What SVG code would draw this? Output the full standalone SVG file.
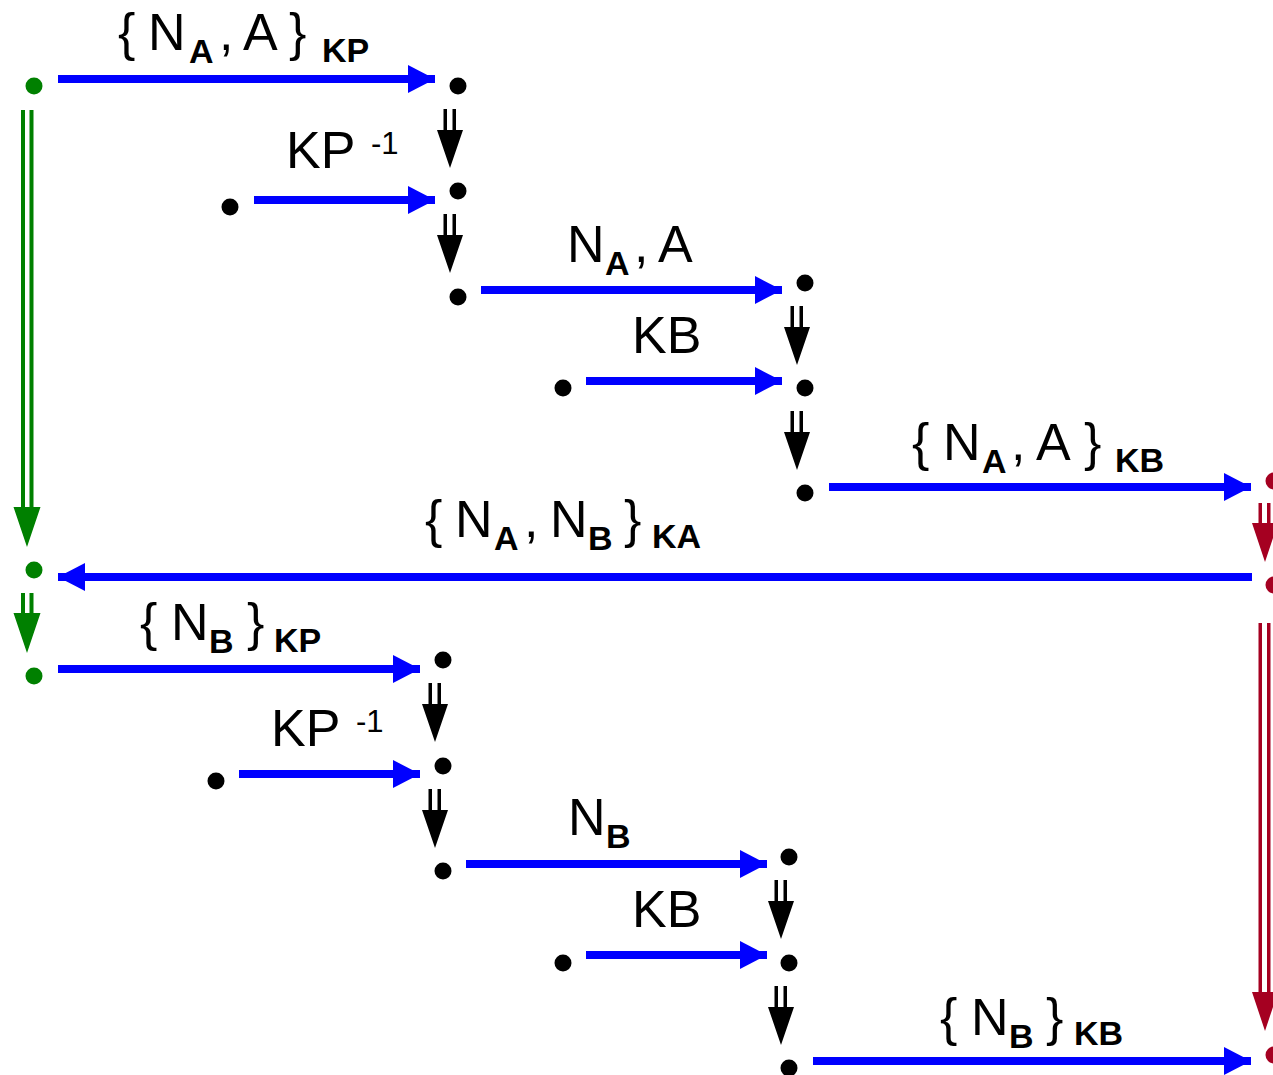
<svg xmlns="http://www.w3.org/2000/svg" width="1273" height="1075" viewBox="0 0 1273 1075">
  <style>
    .bg { fill: #ffffff; }
    .dot { fill: #000000; }
    .dot.g { fill: #008000; }
    .dot.r { fill: #a50021; }
    .msg { stroke: #0000ff; stroke-width: 8; fill: none; }
    .step { fill: #000000; }
    .step.g { fill: #008000; }
    .step.r { fill: #a50021; }
    text { font-family: "Liberation Sans", Arial, sans-serif; fill: #000000; }
    .m { font-size: 52px; }
    .s { font-size: 34px; font-weight: bold; }
    .e { font-size: 31px; }
  </style>
  <defs>
    <marker id="head" markerUnits="userSpaceOnUse" markerWidth="28" markerHeight="28" refX="27" refY="14" orient="auto" viewBox="0 0 28 28">
      <path d="M0,0 L27,14 L0,28 Z" fill="#0000ff"/>
    </marker>
  </defs>
  <rect class="bg" x="0" y="0" width="1273" height="1075"/>

  <!-- message arrows and state-transition arrows -->
  <g id="connectors">
    <line class="msg" x1="58" y1="79" x2="435" y2="79" marker-end="url(#head)"/>
    <line class="msg" x1="254" y1="200" x2="435" y2="200" marker-end="url(#head)"/>
    <line class="msg" x1="481" y1="290" x2="782" y2="290" marker-end="url(#head)"/>
    <line class="msg" x1="586" y1="381" x2="782" y2="381" marker-end="url(#head)"/>
    <line class="msg" x1="829" y1="487" x2="1251" y2="487" marker-end="url(#head)"/>
    <line class="msg" x1="1252" y1="577" x2="58" y2="577" marker-end="url(#head)"/>
    <line class="msg" x1="58" y1="669" x2="420" y2="669" marker-end="url(#head)"/>
    <line class="msg" x1="239" y1="774" x2="420" y2="774" marker-end="url(#head)"/>
    <line class="msg" x1="466" y1="864" x2="767" y2="864" marker-end="url(#head)"/>
    <line class="msg" x1="586" y1="955" x2="767" y2="955" marker-end="url(#head)"/>
    <line class="msg" x1="813" y1="1061" x2="1251" y2="1061" marker-end="url(#head)"/>

    <!-- double-shafted step arrows -->
    <path class="step" d="M443.5,109h3.5v22h-3.5z M452.5,109h3.5v22h-3.5z M437,130H463L450,168Z"/>
    <path class="step" d="M443.5,214h3.5v22h-3.5z M452.5,214h3.5v22h-3.5z M437,235H463L450,273Z"/>
    <path class="step" d="M790.5,306h3.5v22h-3.5z M799.5,306h3.5v22h-3.5z M784,327H810L797,365Z"/>
    <path class="step" d="M790.5,411h3.5v22h-3.5z M799.5,411h3.5v22h-3.5z M784,432H810L797,470Z"/>
    <path class="step" d="M428.5,683h3.5v22h-3.5z M437.5,683h3.5v22h-3.5z M422,704H448L435,742Z"/>
    <path class="step" d="M428.5,789h3.5v22h-3.5z M437.5,789h3.5v22h-3.5z M422,810H448L435,848Z"/>
    <path class="step" d="M774.5,880h3.5v22h-3.5z M783.5,880h3.5v22h-3.5z M768,901H794L781,939Z"/>
    <path class="step" d="M774.5,986h3.5v22h-3.5z M783.5,986h3.5v22h-3.5z M768,1007H794L781,1045Z"/>

    <path class="step g" d="M21,110h4v399h-4z M29.5,110h4v399h-4z M13.5,507H40.5L27,547Z"/>
    <path class="step g" d="M21,593h4v22h-4z M29.5,593h4v22h-4z M13.5,613H40.5L27,653Z"/>

    <path class="step r" d="M1258.5,503h3.5v22h-3.5z M1267,503h3.5v22h-3.5z M1252,523H1278L1265,562Z"/>
    <path class="step r" d="M1258.5,623h3.5v371h-3.5z M1267,623h3.5v371h-3.5z M1252,992H1278L1265,1031Z"/>

    <!-- message labels -->
    <text class="m" x="118" y="50">{</text>
    <text class="m" x="148" y="50">N</text>
    <text class="s" x="189" y="63">A</text>
    <text class="m" x="219" y="50">,</text>
    <text class="m" x="243" y="50">A</text>
    <text class="m" x="289" y="50">}</text>
    <text class="s" x="322" y="62">KP</text>

    <text class="m" x="286" y="168">KP</text>
    <text class="e" x="371" y="154">-1</text>

    <text class="m" x="567" y="262">N</text>
    <text class="s" x="605" y="275">A</text>
    <text class="m" x="634" y="262">,</text>
    <text class="m" x="658" y="262">A</text>

    <text class="m" x="632" y="353">KB</text>

    <text class="m" x="912" y="460">{</text>
    <text class="m" x="943" y="460">N</text>
    <text class="s" x="982" y="473">A</text>
    <text class="m" x="1011" y="460">,</text>
    <text class="m" x="1036" y="460">A</text>
    <text class="m" x="1084" y="460">}</text>
    <text class="s" x="1115" y="472">KB</text>

    <text class="m" x="425" y="537">{</text>
    <text class="m" x="455" y="537">N</text>
    <text class="s" x="494" y="550">A</text>
    <text class="m" x="524" y="537">,</text>
    <text class="m" x="550" y="537">N</text>
    <text class="s" x="588" y="550">B</text>
    <text class="m" x="624" y="537">}</text>
    <text class="s" x="652" y="548">KA</text>

    <text class="m" x="140" y="640">{</text>
    <text class="m" x="171" y="640">N</text>
    <text class="s" x="209" y="653">B</text>
    <text class="m" x="247" y="640">}</text>
    <text class="s" x="274" y="652">KP</text>

    <text class="m" x="271" y="746">KP</text>
    <text class="e" x="356" y="732">-1</text>

    <text class="m" x="568" y="835">N</text>
    <text class="s" x="606" y="848">B</text>

    <text class="m" x="632" y="927">KB</text>

    <text class="m" x="940" y="1035">{</text>
    <text class="m" x="971" y="1035">N</text>
    <text class="s" x="1009" y="1048">B</text>
    <text class="m" x="1046" y="1035">}</text>
    <text class="s" x="1074" y="1045">KB</text>
  </g>

  <!-- protocol states -->
  <g id="a0"><circle class="dot g" cx="34" cy="86" r="8.5"/></g>
  <g id="a1"><circle class="dot g" cx="34" cy="570" r="8.5"/></g>
  <g id="a2"><circle class="dot g" cx="34" cy="676" r="8.5"/></g>

  <g id="p0"><circle class="dot" cx="458" cy="86" r="8.5"/></g>
  <g id="p1"><circle class="dot" cx="458" cy="191" r="8.5"/></g>
  <g id="k1"><circle class="dot" cx="230" cy="207" r="8.5"/></g>
  <g id="p2"><circle class="dot" cx="458" cy="297" r="8.5"/></g>
  <g id="p3"><circle class="dot" cx="805" cy="283" r="8.5"/></g>
  <g id="p4"><circle class="dot" cx="805" cy="388" r="8.5"/></g>
  <g id="k2"><circle class="dot" cx="563" cy="388" r="8.5"/></g>
  <g id="p5"><circle class="dot" cx="805" cy="493" r="8.5"/></g>

  <g id="q0"><circle class="dot" cx="443" cy="660" r="8.5"/></g>
  <g id="q1"><circle class="dot" cx="443" cy="766" r="8.5"/></g>
  <g id="k3"><circle class="dot" cx="216" cy="781" r="8.5"/></g>
  <g id="q2"><circle class="dot" cx="443" cy="871" r="8.5"/></g>
  <g id="q3"><circle class="dot" cx="789" cy="857" r="8.5"/></g>
  <g id="q4"><circle class="dot" cx="789" cy="963" r="8.5"/></g>
  <g id="k4"><circle class="dot" cx="563" cy="963" r="8.5"/></g>
  <g id="q5"><circle class="dot" cx="789" cy="1068" r="8.5"/></g>

  <g id="b0"><circle class="dot r" cx="1274" cy="481" r="8.5"/></g>
  <g id="b1"><circle class="dot r" cx="1274" cy="585" r="8.5"/></g>
  <g id="b2"><circle class="dot r" cx="1274" cy="1055" r="8.5"/></g>
</svg>
